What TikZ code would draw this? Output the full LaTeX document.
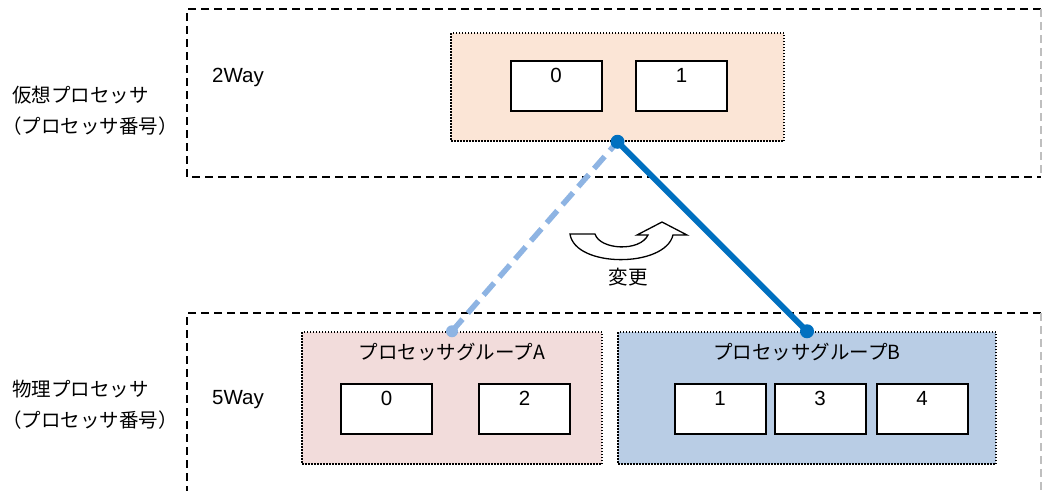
\documentclass[tikz,border=0pt]{standalone}
\usepackage{fontspec}
\setmainfont{Liberation Sans}
\newfontfamily\cjk{Noto Sans CJK JP}
\definecolor{orangefill}{HTML}{FBE5D6}
\definecolor{pinkfill}{HTML}{F2DCDB}
\definecolor{bluefill}{HTML}{B9CDE5}
\definecolor{linkdark}{HTML}{0070C0}
\definecolor{linklight}{HTML}{8EB4E3}
\begin{document}
\begin{tikzpicture}[x=1pt,y=-1pt,
  outer/.style={draw=black, line width=2pt, dash pattern=on 8pt off 5pt},
  outeredge/.style={draw=black!25, line width=2pt, dash pattern=on 8pt off 5pt},
  group/.style={draw=black, line width=1.5pt, dash pattern=on 1.5pt off 1.5pt, inner sep=0pt, minimum height=132pt},
  cell/.style={draw=black, line width=2pt, fill=white, minimum width=91pt, minimum height=50pt, inner sep=0pt},
  num/.style={font=\fontsize{20.5}{24}\selectfont, inner sep=0pt},
  jp/.style={font=\cjk\fontsize{19.5}{24}\selectfont, inner sep=0pt},
]
\useasboundingbox (0,0) rectangle (1042,491);

% outer frames (virtual / physical)
\draw[outer] (1041,9) -- (187,9) -- (187,177) -- (1041,177);
\draw[outeredge] (1041,9) -- (1041,177);
\draw[outer] (1041,313) -- (187,313) -- (187,491);
\draw[outeredge] (1041,313) -- (1041,491);

% row captions
\node[jp, anchor=west] (vcap1) at (12,95) {仮想プロセッサ};
\node[jp, anchor=west] (vcap2) at (2,126) {（プロセッサ番号）};
\node[jp, anchor=west] (pcap1) at (12,389) {物理プロセッサ};
\node[jp, anchor=west] (pcap2) at (2,420) {（プロセッサ番号）};
\node[num, anchor=west] (vway) at (212,77) {2Way};
\node[num, anchor=west] (pway) at (212,400) {5Way};

% virtual processors
\node[group, fill=orangefill, minimum width=333pt, minimum height=108pt] (virt) at (617.5,87) {};
\node[cell] (v0) at (556,86) {};
\node[cell] (v1) at (681.5,86) {};
\node[num] (v0t) at ([yshift=-15pt]v0.north) {0};
\node[num] (v1t) at ([yshift=-15pt]v1.north) {1};

% processor group A
\node[group, fill=pinkfill, minimum width=300pt] (grpA) at (452,398) {};
\node[jp] (grpAt) at (452,352) {プロセッサグループA};
\node[cell] (a0) at (386.5,409) {};
\node[cell] (a2) at (524.5,409) {};
\node[num] (a0t) at ([yshift=-15pt]a0.north) {0};
\node[num] (a2t) at ([yshift=-15pt]a2.north) {2};

% processor group B
\node[group, fill=bluefill, minimum width=378pt] (grpB) at (807,398) {};
\node[jp] (grpBt) at (807,352) {プロセッサグループB};
\node[cell] (b1) at (720,409) {};
\node[cell] (b3) at (820,409) {};
\node[cell] (b4) at (922,409) {};
\node[num] (b1t) at ([yshift=-15pt]b1.north) {1};
\node[num] (b3t) at ([yshift=-15pt]b3.north) {3};
\node[num] (b4t) at ([yshift=-15pt]b4.north) {4};

% curved "change" arrow
\draw[line width=1.3pt, fill=white, line join=miter]
  (570,234) -- (595,234) .. controls (600,250) and (640,252) .. (648,235)
  -- (637,235) -- (662,222) -- (687,235) -- (673,235)
  .. controls (665,268) and (575,268) .. (570,234) -- cycle;
\node[jp] (change) at (628,277) {変更};

% old and new assignment links
\draw[linklight, line width=5.5pt, dash pattern=on 16pt off 8pt] (grpA.north) -- (virt.south);
\fill[linklight] (grpA.north) circle (6pt);
\draw[linkdark, line width=6pt] (virt.south) -- (grpB.north);
\fill[linkdark] (virt.south) circle (7pt) (grpB.north) circle (7pt);
\end{tikzpicture}
\end{document}
